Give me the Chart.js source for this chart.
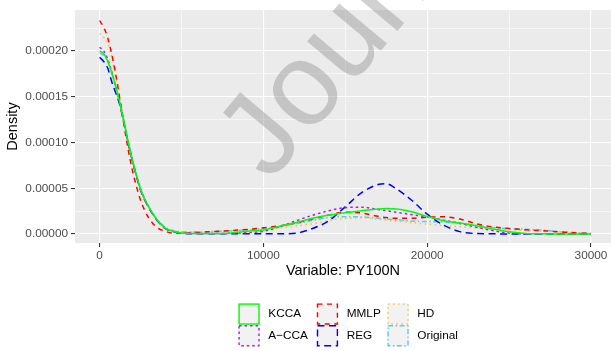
<!DOCTYPE html>
<html lang="en">
<head>
<meta charset="UTF-8">
<title>Density PY100N</title>
<script src="https://cdn.jsdelivr.net/npm/chart.js"></script>
<style>
    html, body { margin: 0; padding: 0; background: #ffffff; }
    #wrap { width: 611px; height: 351px; position: relative; }
</style>
</head>
<body>
<div id="wrap"><canvas id="grafico"></canvas></div>

<script>
    // x grid of the curves (values of PY100N)
    var xValores = [0, 250, 500, 750, 1000, 1250, 1500, 1750, 2000, 2250, 2500, 2750, 3000, 3250, 3500, 4000, 4500, 5000,
        6000, 7000, 8000, 9000, 10000, 11000, 12000, 13000, 14000, 15000, 16000, 17000, 17500, 18000, 19000, 20000,
        21000, 22000, 23000, 24000, 25000, 26000, 27000, 28000, 29000, 30000];

    // densities, in units of 1e-5
    var kcca = [20.0, 19.7, 18.9, 17.6, 16.0, 14.2, 12.1, 10.0, 8.1, 6.4, 4.9, 3.8, 2.95, 2.2, 1.55, 0.65, 0.28, 0.12,
        0.05, 0.06, 0.12, 0.3, 0.45, 0.85, 1.27, 1.72, 2.08, 2.33, 2.55, 2.74, 2.79, 2.76, 2.45, 1.93,
        1.45, 1.2, 0.9, 0.55, 0.26, 0.07, 0.02, 0.01, 0, 0];
    var acca = [20.4, 20.0, 19.1, 17.7, 16.0, 14.2, 12.1, 10.0, 8.1, 6.4, 4.9, 3.8, 2.95, 2.2, 1.55, 0.65, 0.28, 0.12,
        0.05, 0.05, 0.08, 0.15, 0.3, 0.8, 1.45, 2.05, 2.55, 2.88, 2.93, 2.67, 2.55, 2.41, 2.13, 1.88,
        1.52, 1.16, 0.75, 0.38, 0.1, 0.02, 0, 0, 0, 0];
    var mmlp = [23.3, 22.6, 21.4, 19.6, 17.3, 14.6, 11.8, 9.2, 7.0, 5.2, 3.7, 2.6, 1.75, 1.15, 0.72, 0.3, 0.1, 0.08,
        0.18, 0.28, 0.38, 0.5, 0.68, 0.9, 1.22, 1.65, 2.07, 2.38, 2.3, 1.93, 1.8, 1.72, 1.72, 1.84,
        1.88, 1.63, 1.12, 0.78, 0.6, 0.47, 0.37, 0.25, 0.13, 0.05];
    var reg = [19.3, 18.85, 18.1, 16.6, 15.35, 14.0, 12.0, 9.9, 8.0, 6.3, 4.8, 3.75, 2.9, 2.15, 1.5, 0.62, 0.25, 0.1,
        0.03, 0.02, 0.02, 0.03, 0.02, 0.02, 0.1, 0.6, 1.45, 2.97, 4.53, 5.4, 5.5, 5.07, 3.77, 2.17,
        0.97, 0.26, 0.05, 0.02, 0.01, 0, 0, 0, 0, 0];
    var hd = [21.9, 21.5, 20.8, 19.2, 17.1, 14.9, 12.4, 10.0, 8.0, 6.3, 4.8, 3.8, 2.95, 2.25, 1.6, 0.72, 0.35, 0.25,
        0.22, 0.27, 0.33, 0.42, 0.53, 0.68, 0.88, 1.12, 1.48, 1.7, 1.77, 1.62, 1.52, 1.42, 1.26, 1.08,
        0.93, 0.8, 0.67, 0.55, 0.46, 0.38, 0.29, 0.2, 0.12, 0.05];
    var original = [19.8, 19.5, 18.8, 17.5, 15.9, 14.2, 12.2, 10.1, 8.2, 6.5, 5.0, 3.9, 3.05, 2.3, 1.65, 0.75, 0.38, 0.25,
        0.22, 0.27, 0.35, 0.45, 0.58, 0.82, 1.12, 1.48, 1.8, 1.9, 1.87, 1.73, 1.65, 1.57, 1.42, 1.36,
        1.32, 1.16, 0.95, 0.72, 0.6, 0.53, 0.43, 0.27, 0.18, 0.07];
    var escala = 1e-5;

    // axis ticks
    var xMaior = [0, 10000, 20000, 30000];
    var xRotulos = ['0', '10000', '20000', '30000'];
    var xMenor = [5000, 15000, 25000];
    var yMaior = [0, 0.00005, 0.0001, 0.00015, 0.0002];
    var yRotulos = ['0.00000', '0.00005', '0.00010', '0.00015', '0.00020'];
    var yMenor = [0.000025, 0.000075, 0.000125, 0.000175, 0.000225];

    // series: name, values, colour, dash
    var nomes = ['KCCA', 'A\u2212CCA', 'MMLP', 'REG', 'HD', 'Original'];
    var series = [kcca, acca, mmlp, reg, hd, original];
    var cores = ['#00FF00', '#A020F0', '#FF0000', '#0000FF', '#F5C035', '#55CDF0'];
    var tracos = [[], [2.5, 3], [5, 4.5], [7, 4.5], [1.5, 3.5], [5, 2.5, 1.5, 2.5]];

    Chart.defaults.font.family = '"Liberation Sans", Arial, sans-serif';

    var datasets = [];
    for (var i = 0; i < series.length; i++) {
        var pts = [];
        for (var j = 0; j < xValores.length; j++) {
            pts.push({ x: xValores[j], y: series[i][j] * escala });
        }
        datasets.push({
            label: nomes[i],
            data: pts,
            borderColor: cores[i],
            backgroundColor: cores[i],
            borderDash: tracos[i],
            borderWidth: 1.5,
            pointRadius: 0,
            fill: false,
            cubicInterpolationMode: 'monotone'
        });
    }

    function ehMaior(lista, v) {
        return lista.indexOf(v) >= 0;
    }

    // grey panel behind the grid
    var fundoPainel = {
        id: 'fundoPainel',
        beforeDraw: function (chart) {
            var a = chart.chartArea;
            var ctx = chart.ctx;
            ctx.save();
            ctx.fillStyle = '#EBEBEB';
            ctx.fillRect(a.left, a.top, a.right - a.left, a.bottom - a.top);
            ctx.restore();
        }
    };

    // ggplot-like legend: 3 columns x 2 rows, filled column by column
    var legendaGG = {
        id: 'legendaGG',
        afterDraw: function (chart) {
            var ctx = chart.ctx;
            var colX = [238.3, 316.7, 387.3];
            var rowY = [303.3, 325];
            var lado = 21.5;
            ctx.save();
            for (var k = 0; k < chart.data.datasets.length; k++) {
                var ds = chart.data.datasets[k];
                var x = colX[Math.floor(k / 2)];
                var y = rowY[k % 2];
                ctx.fillStyle = '#F2F2F2';
                ctx.fillRect(x, y, lado, lado);
                ctx.strokeStyle = ds.borderColor;
                ctx.lineWidth = 1.4;
                ctx.setLineDash(ds.borderDash);
                ctx.strokeRect(x + 0.8, y + 0.8, lado - 1.6, lado - 1.6);
                ctx.setLineDash([]);
                ctx.fillStyle = '#000000';
                ctx.font = '11.8px "Liberation Sans", Arial, sans-serif';
                ctx.textBaseline = 'middle';
                ctx.textAlign = 'left';
                ctx.fillText(ds.label, x + 30, y + lado / 2);
            }
            ctx.restore();
        }
    };

    // journal watermark across the figure
    var marcaDagua = {
        id: 'marcaDagua',
        afterDraw: function (chart) {
            var ctx = chart.ctx;
            ctx.save();
            ctx.translate(270, 183);
            ctx.rotate(-50 * Math.PI / 180);
            ctx.fillStyle = 'rgba(128,128,128,0.36)';
            ctx.font = '118px "Liberation Sans", Arial, sans-serif';
            ctx.textBaseline = 'alphabetic';
            ctx.fillText('Journal Pre-proof', 0, 0);
            ctx.restore();
        }
    };

    var ctx = document.getElementById('grafico');
    var grafico = new Chart(ctx, {
        type: 'line',
        data: { datasets: datasets },
        options: {
            responsive: true,
            maintainAspectRatio: false,
            animation: false,
            layout: { padding: { top: 9, left: 0, right: 0, bottom: 71.3 } },
            plugins: {
                legend: { display: false },
                tooltip: { enabled: false }
            },
            scales: {
                x: {
                    type: 'linear',
                    min: -1500,
                    max: 31220,
                    afterFit: function (scale) { scale.height = 36.7; },
                    afterBuildTicks: function (scale) {
                        scale.ticks = xMaior.concat(xMenor).sort(function (a, b) { return a - b; })
                            .map(function (v) { return { value: v }; });
                    },
                    ticks: {
                        autoSkip: false,
                        maxRotation: 0,
                        padding: 2,
                        color: '#4D4D4D',
                        font: { size: 11.8 },
                        callback: function (value) {
                            var i = xMaior.indexOf(value);
                            return i >= 0 ? xRotulos[i] : '';
                        }
                    },
                    grid: {
                        color: '#FFFFFF',
                        lineWidth: function (c) { return ehMaior(xMaior, c.tick.value) ? 1.1 : 0.55; },
                        tickColor: function (c) { return ehMaior(xMaior, c.tick.value) ? '#333333' : 'rgba(0,0,0,0)'; },
                        tickWidth: 1.1,
                        tickLength: 4
                    },
                    border: { display: false },
                    title: {
                        display: true,
                        text: 'Variable: PY100N',
                        color: '#000000',
                        font: { size: 14.5 },
                        padding: { top: 0, bottom: 0 }
                    }
                },
                y: {
                    type: 'linear',
                    min: -0.0000098,
                    max: 0.0002446,
                    afterFit: function (scale) { scale.width = 75; },
                    afterBuildTicks: function (scale) {
                        scale.ticks = yMaior.concat(yMenor).sort(function (a, b) { return a - b; })
                            .map(function (v) { return { value: v }; });
                    },
                    ticks: {
                        autoSkip: false,
                        padding: 3,
                        color: '#4D4D4D',
                        font: { size: 11.8 },
                        callback: function (value) {
                            var i = yMaior.indexOf(value);
                            return i >= 0 ? yRotulos[i] : '';
                        }
                    },
                    grid: {
                        color: '#FFFFFF',
                        lineWidth: function (c) { return ehMaior(yMaior, c.tick.value) ? 1.1 : 0.55; },
                        tickColor: function (c) { return ehMaior(yMaior, c.tick.value) ? '#333333' : 'rgba(0,0,0,0)'; },
                        tickWidth: 1.1,
                        tickLength: 4
                    },
                    border: { display: false },
                    title: {
                        display: true,
                        text: 'Density',
                        color: '#000000',
                        font: { size: 14.5 },
                        padding: { top: 4.7, bottom: 0 }
                    }
                }
            }
        },
        plugins: [fundoPainel, legendaGG, marcaDagua]
    });
</script>
</body>
</html>
